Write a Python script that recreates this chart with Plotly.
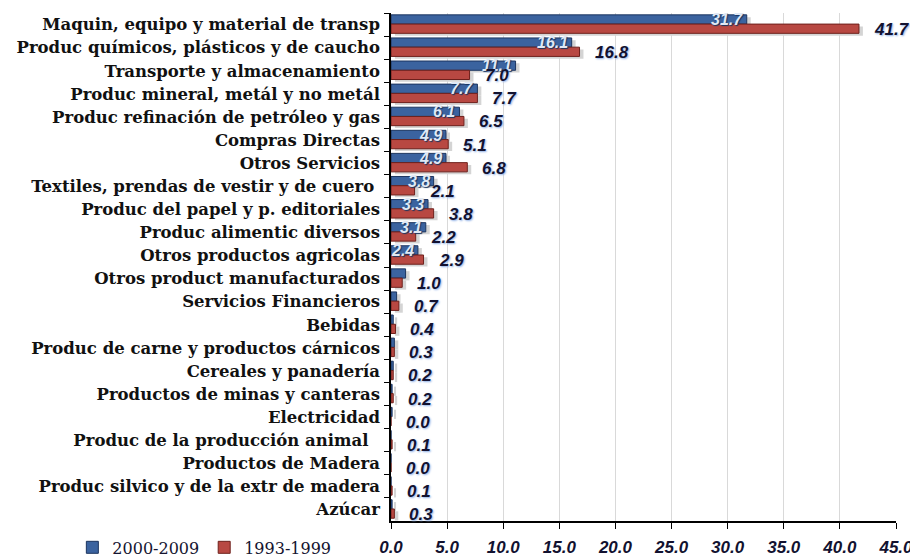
import plotly.graph_objects as go

categories = [
    "Maquin, equipo y material de transp",
    "Produc químicos, plásticos y de caucho",
    "Transporte y almacenamiento",
    "Produc mineral, metál y no metál",
    "Produc refinación de petróleo y gas",
    "Compras Directas",
    "Otros Servicios",
    "Textiles, prendas de vestir y de cuero ",
    "Produc del papel y p. editoriales",
    "Produc alimentic diversos",
    "Otros productos agricolas",
    "Otros product manufacturados",
    "Servicios Financieros",
    "Bebidas",
    "Produc de carne y productos cárnicos",
    "Cereales y panadería",
    "Productos de minas y canteras",
    "Electricidad",
    "Produc de la producción animal  ",
    "Productos de Madera",
    "Produc silvico y de la extr de madera",
    "Azúcar",
]
s2000_2009 = [31.7, 16.1, 11.1, 7.7, 6.1, 4.9, 4.9, 3.8, 3.3, 3.1, 2.4,
              1.3, 0.5, 0.2, 0.3, 0.2, 0.1, 0.1, 0.0, 0.0, 0.0, 0.1]
s1993_1999 = [41.7, 16.8, 7.0, 7.7, 6.5, 5.1, 6.8, 2.1, 3.8, 2.2, 2.9,
              1.0, 0.7, 0.4, 0.3, 0.2, 0.2, 0.0, 0.1, 0.0, 0.1, 0.3]
x_ticks = [0, 5, 10, 15, 20, 25, 30, 35, 40, 45]

BLUE = "#3b639f"
BLUE_EDGE = "#1c355f"
RED = "#b84842"
RED_EDGE = "#6e201c"
SHADOW = "#d4d4d4"

fig = go.Figure()

# soft drop shadows behind the bars
for vals, off in ((s2000_2009, -0.32), (s1993_1999, 0.08)):
    fig.add_trace(go.Bar(
        y=categories, x=vals, base=0.35, orientation="h",
        offset=off, width=0.4, marker=dict(color=SHADOW, line=dict(width=0)),
        showlegend=False, hoverinfo="skip"))

fig.add_trace(go.Bar(
    y=categories, x=s2000_2009, orientation="h", name="2000-2009",
    offset=-0.42, width=0.4,
    marker=dict(color=BLUE, line=dict(color=BLUE_EDGE, width=1))))
fig.add_trace(go.Bar(
    y=categories, x=s1993_1999, orientation="h", name="1993-1999",
    offset=-0.02, width=0.4,
    marker=dict(color=RED, line=dict(color=RED_EDGE, width=1))))

annotations = []
for cat, v in zip(categories, s2000_2009):
    if v >= 2.0:
        annotations.append(dict(
            x=v, y=cat, xref="x", yref="y", text=f"{v:.1f}", showarrow=False,
            xanchor="right", yanchor="middle", xshift=-2, yshift=5,
            font=dict(family="Liberation Sans", size=16, color="#dfe8f5",
                      weight="bold", style="italic",
                      shadow="1px 1px 1px #1c355f")))
for cat, v in zip(categories, s1993_1999):
    annotations.append(dict(
        x=v, y=cat, xref="x", yref="y", text=f"{v:.1f}", showarrow=False,
        xanchor="left", yanchor="middle", xshift=13, yshift=-5,
        font=dict(family="Liberation Sans", size=17, color="#121230",
                  weight="bold", style="italic",
                  shadow="1px 1px 2px #8fb0e6")))

# the page body adds an 8px offset, so the figure is sized to the remaining area
fig.update_layout(
    width=910, height=549,
    margin=dict(l=383, r=22, t=5, b=36, autoexpand=False),
    paper_bgcolor="white", plot_bgcolor="white",
    barmode="overlay",
    annotations=annotations,
    legend=dict(orientation="h", x=-0.631, xanchor="left", y=-0.052,
                yanchor="middle", font=dict(family="DejaVu Serif", size=16,
                                            color="#141430"),
                bgcolor="rgba(0,0,0,0)", itemwidth=30, traceorder="normal"),
    xaxis=dict(range=[0, 45], tickvals=x_ticks, tickformat=".1f",
               automargin=False,
               showgrid=True, gridcolor="#d9d9d9", gridwidth=1,
               zeroline=False, showline=True, linecolor="black", linewidth=1.5,
               ticks="outside", ticklen=6, tickcolor="black",
               ticklabelstandoff=4,
               tickfont=dict(family="Liberation Sans", size=17, color="#121230",
                             weight="bold", style="italic")),
    yaxis=dict(categoryorder="array", categoryarray=categories,
               automargin=False,
               range=[21.5, -0.5], showline=True, linecolor="black",
               linewidth=1.5, ticks="outside", ticklen=5, tickcolor="black",
               tickson="boundaries", showgrid=False, ticklabelstandoff=6,
               tickfont=dict(family="DejaVu Serif", size=16.5, color="#111111",
                             weight="bold")),
)

fig.write_html("out.html")
